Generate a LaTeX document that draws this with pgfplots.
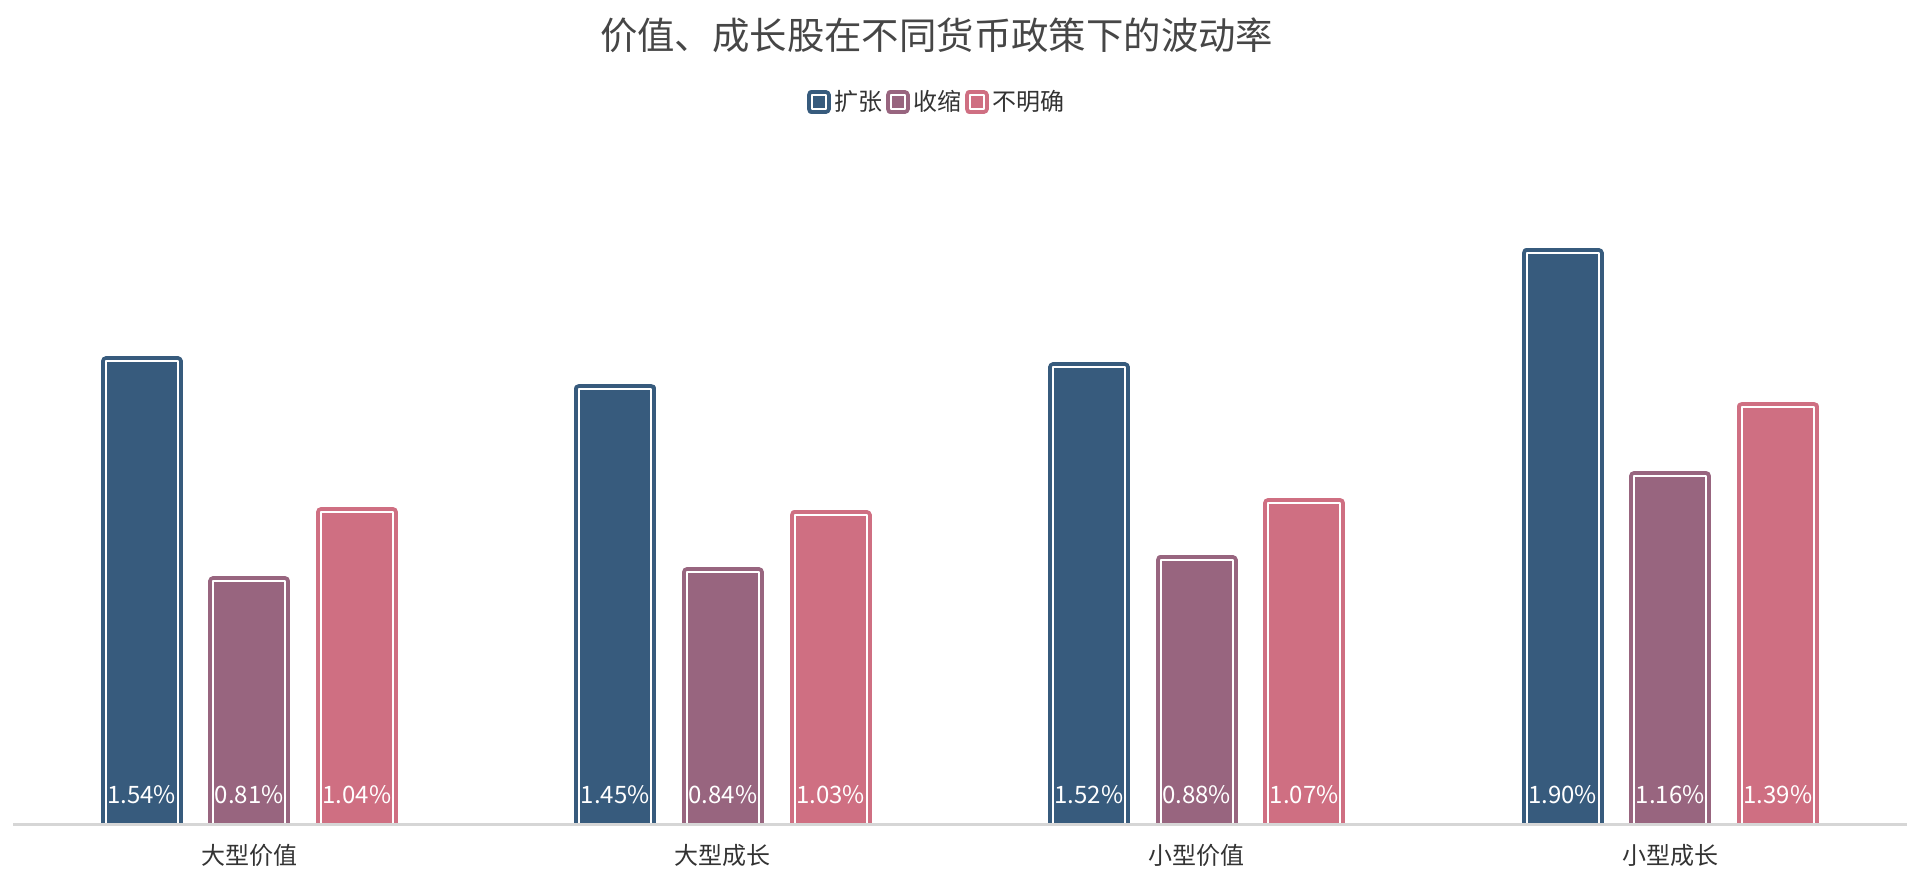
\documentclass[border=0pt]{standalone}
\usepackage{pgfplots}
\pgfplotsset{compat=1.18}
\usepackage{fontspec}
\setmainfont{Noto Sans CJK SC}

\definecolor{kz}{HTML}{375B7D}
\definecolor{ss}{HTML}{98657F}
\definecolor{bm}{HTML}{CF6F82}
\definecolor{txt}{HTML}{333333}
\definecolor{ttl}{HTML}{464646}
\definecolor{axl}{HTML}{D6D6D6}

\pgfplotsset{
  barstyle/.style={draw=#1, fill=#1, double=white, line width=2pt,
    double distance=1pt, line join=round},
  myleg/.style={legend image code/.code={
    \draw[##1] (2.5pt,-3.5pt) rectangle (9.5pt,3.5pt);
    \path (0pt,0pt) (11.5pt,0pt);}},
}

\begin{document}
\begin{tikzpicture}
\path[use as bounding box] (0,0) rectangle (953.5pt,443pt);
\node[font=\fontsize{18.7}{20}\selectfont, text=ttl, anchor=base, inner sep=0pt]
  at (468.3pt,418.25pt) {价值、成长股在不同货币政策下的波动率};
\begin{axis}[
  name=ax,
  at={(6.25pt,30.5pt)}, anchor=south west,
  scale only axis, width=947.25pt, height=301pt,
  xmin=-0.5, xmax=3.5, ymin=0, ymax=2,
  axis line style={draw=none},
  ytick=\empty,
  xtick={0,1,2,3},
  xticklabels={大型价值,大型成长,小型价值,小型成长},
  xtick style={draw=none},
  xticklabel style={font=\fontsize{12}{12}\selectfont, text=txt, anchor=base, yshift=-15.5pt},
  ybar=17.8pt, bar width=36pt,
  /pgf/number format/assume math mode=true,
  visualization depends on={y \as \rawy},
  nodes near coords={\pgfmathprintnumber[fixed,fixed zerofill,precision=2]{\pgfplotspointmeta}\%},
  every node near coord/.append style={font=\fontsize{12}{12}\selectfont, text=white,
    anchor=base, shift={(axis direction cs:0,-\rawy)}, yshift=10.5pt},
  legend columns=-1,
  legend style={draw=none, fill=none, inner sep=0pt, outer sep=0pt,
    nodes={inner sep=0pt, text=txt, font=\fontsize{12}{12}\selectfont},
    /tikz/every odd column/.append style={column sep=0pt},
    /tikz/every even column/.append style={column sep=-1pt},
    at={(0.4859,1.201)}, anchor=center},
]
\addplot[barstyle=kz, myleg] coordinates {(0,1.54) (1,1.45) (2,1.52) (3,1.90)};
\addlegendentry{扩张}
\addplot[barstyle=ss, myleg] coordinates {(0,0.81) (1,0.84) (2,0.88) (3,1.16)};
\addlegendentry{收缩}
\addplot[barstyle=bm, myleg] coordinates {(0,1.04) (1,1.03) (2,1.07) (3,1.39)};
\addlegendentry{不明确}
\end{axis}
\draw[axl, line width=1.5pt] ([xshift=0.25pt, yshift=0.25pt]ax.south west) -- ([yshift=0.25pt]ax.south east);
\end{tikzpicture}
\end{document}
